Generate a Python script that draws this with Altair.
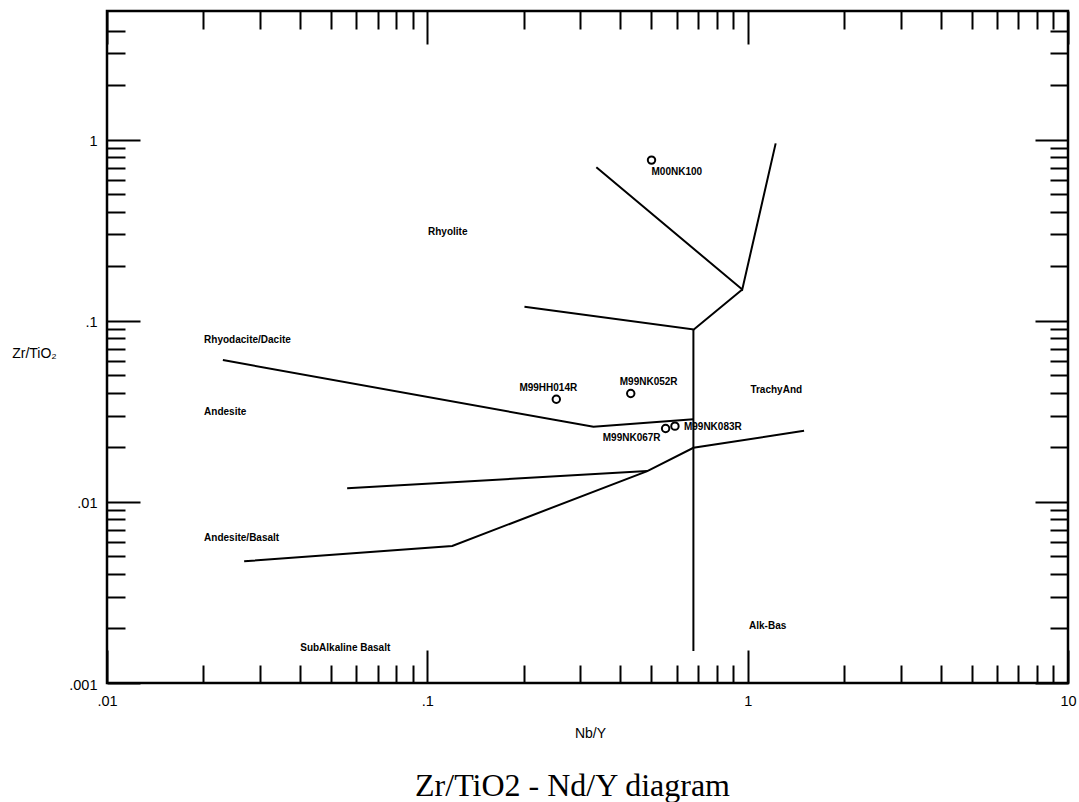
import altair as alt
import pandas as pd

# ---- axis tick values / labels ----
x_major = [0.01, 0.1, 1, 10]
x_minor = [0.02, 0.03, 0.04, 0.05, 0.06, 0.07, 0.08, 0.09,
           0.2, 0.3, 0.4, 0.5, 0.6, 0.7, 0.8, 0.9,
           2, 3, 4, 5, 6, 7, 8, 9]
y_major = [0.001, 0.01, 0.1, 1]
y_minor = [0.002, 0.003, 0.004, 0.005, 0.006, 0.007, 0.008, 0.009,
           0.02, 0.03, 0.04, 0.05, 0.06, 0.07, 0.08, 0.09,
           0.2, 0.3, 0.4, 0.5, 0.6, 0.7, 0.8, 0.9,
           2, 3, 4]

# ---- field boundary lines (segment id, Nb/Y, Zr/TiO2) ----
line_seg = [0, 0, 0,
            1, 1, 1,
            2, 2,
            3, 3, 3,
            4, 4,
            5, 5, 5, 5, 5]
line_x = [0.337, 0.962, 1.223,
          0.201, 0.679, 0.962,
          0.677, 0.677,
          0.023, 0.330, 0.677,
          0.0562, 0.486,
          0.0268, 0.1196, 0.486, 0.677, 1.50]
line_y = [0.704, 0.149, 0.955,
          0.1195, 0.0896, 0.149,
          0.0896, 0.0015,
          0.0607, 0.0260, 0.0286,
          0.0119, 0.0148,
          0.0047, 0.00571, 0.0148, 0.0199, 0.0247]

# ---- samples ----
sample_name = ["M00NK100", "M99HH014R", "M99NK052R", "M99NK067R", "M99NK083R"]
sample_x = [0.501, 0.2527, 0.4315, 0.5544, 0.5929]
sample_y = [0.772, 0.0369, 0.0397, 0.02544, 0.0262]

# ---- field names ----
region_name = ["Rhyolite", "Rhyodacite/Dacite", "Andesite", "Andesite/Basalt",
               "SubAlkaline Basalt", "TrachyAnd", "Alk-Bas"]
region_x = [0.1005, 0.0201, 0.0201, 0.0201, 0.0401, 1.02, 1.01]
region_y = [0.311, 0.0785, 0.0313, 0.00632, 0.00157, 0.0416, 0.00207]

lines_df = pd.DataFrame({"seg": line_seg, "x": line_x, "y": line_y,
                         "ord": list(range(len(line_x)))})
samples_df = pd.DataFrame({"name": sample_name, "x": sample_x, "y": sample_y})
regions_df = pd.DataFrame({"name": region_name, "x": region_x, "y": region_y})

SANS = "Liberation Sans"
XS = alt.Scale(type="log", domain=[0.01, 10], nice=False)
YS = alt.Scale(type="log", domain=[0.001, 5.14], nice=False)
LABEL_EXPR = "replace(toString(datum.value), '0.', '.')"


def tick_axis(orient, values, size):
    return alt.Axis(orient=orient, values=values, tickSize=size, offset=-size,
                    labels=False, domain=False, grid=False, title=None,
                    ticks=True, tickWidth=2, tickColor="black")


x_label_axis = alt.Axis(orient="bottom", values=x_major, labelExpr=LABEL_EXPR,
                        ticks=False, domain=False, grid=False, labelPadding=11,
                        labelFlush=False, labelFont=SANS, labelFontSize=14.5,
                        labelColor="black",
                        title="Nb/Y", titleX=483, titleY=50, titleAlign="center",
                        titleBaseline="middle", titleFont=SANS, titleFontSize=14,
                        titleFontWeight="normal", titleColor="black")
y_label_axis = alt.Axis(orient="left", values=y_major, labelExpr=LABEL_EXPR,
                        ticks=False, domain=False, grid=False, labelPadding=10,
                        labelFlush=False, labelFont=SANS, labelFontSize=14.5,
                        labelColor="black", labelOffset=2,
                        title="Zr/TiO₂", titleX=-73, titleY=342, titleAngle=0,
                        titleAlign="center", titleBaseline="middle",
                        titleFont=SANS, titleFontSize=14,
                        titleFontWeight="normal", titleColor="black")

lines = alt.Chart(lines_df).mark_line(color="black", strokeWidth=2).encode(
    x=alt.X("x:Q", scale=XS, axis=x_label_axis),
    y=alt.Y("y:Q", scale=YS, axis=y_label_axis),
    detail="seg:N",
    order="ord:Q",
)

points = alt.Chart(samples_df).mark_point(shape="circle", filled=False, size=55,
                                          strokeWidth=2, color="black",
                                          opacity=1).encode(
    x=alt.X("x:Q", scale=XS, axis=tick_axis("bottom", x_major, 33)),
    y=alt.Y("y:Q", scale=YS, axis=tick_axis("left", y_major, 33)),
)

helper1 = alt.Chart(samples_df).mark_point(opacity=0).encode(
    x=alt.X("x:Q", scale=XS, axis=tick_axis("bottom", x_minor, 18)),
    y=alt.Y("y:Q", scale=YS, axis=tick_axis("left", y_minor, 18)),
)
helper2 = alt.Chart(samples_df).mark_point(opacity=0).encode(
    x=alt.X("x:Q", scale=XS, axis=tick_axis("top", x_major, 33)),
    y=alt.Y("y:Q", scale=YS, axis=tick_axis("right", y_major, 33)),
)
helper3 = alt.Chart(samples_df).mark_point(opacity=0).encode(
    x=alt.X("x:Q", scale=XS, axis=tick_axis("top", x_minor, 18)),
    y=alt.Y("y:Q", scale=YS, axis=tick_axis("right", y_minor, 18)),
)

regions = alt.Chart(regions_df).mark_text(align="left", baseline="middle",
                                          font=SANS, fontSize=10,
                                          fontWeight="bold",
                                          color="black").encode(
    x=alt.X("x:Q", scale=XS, axis=None),
    y=alt.Y("y:Q", scale=YS, axis=None),
    text="name:N",
)

label_style = {
    "M00NK100": ("left", 0, 12),
    "M99HH014R": ("center", -8, -11),
    "M99NK052R": ("left", -11, -11),
    "M99NK067R": ("right", -5, 10),
    "M99NK083R": ("left", 9, 1),
}
label_layers = []
for nm, (al, ddx, ddy) in label_style.items():
    label_layers.append(
        alt.Chart(samples_df).transform_filter(alt.datum.name == nm)
        .mark_text(align=al, baseline="middle", dx=ddx, dy=ddy, font=SANS,
                   fontSize=10, fontWeight="bold", color="black")
        .encode(x=alt.X("x:Q", scale=XS, axis=None),
                y=alt.Y("y:Q", scale=YS, axis=None),
                text="name:N")
    )

chart = alt.layer(lines, points, helper1, helper2, helper3, regions,
                  *label_layers).resolve_axis(
    x="independent", y="independent"
).properties(
    width=961, height=672,
    autosize=alt.AutoSizeParams(type="none"),
    padding={"left": 107, "top": 11, "right": 11, "bottom": 119},
    background="white",
    title=alt.TitleParams(text="Zr/TiO2 - Nd/Y diagram", orient="bottom",
                          anchor="middle", font="Liberation Serif",
                          fontSize=32, fontWeight="normal", color="black",
                          dx=-15, offset=56, baseline="alphabetic"),
).configure_view(stroke="black", strokeWidth=2.5)

chart.save("out.html", embed_options={"renderer": "svg", "actions": False})
